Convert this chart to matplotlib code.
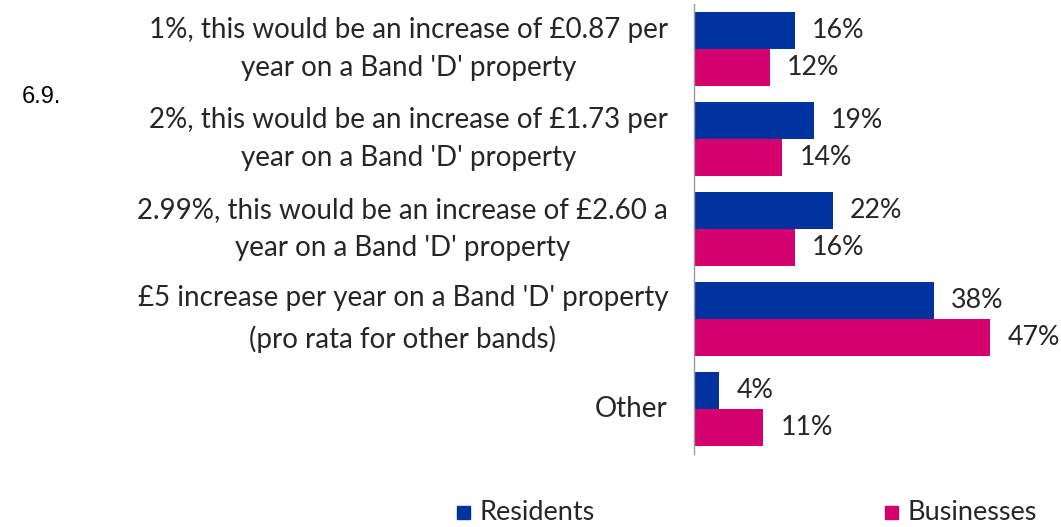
import matplotlib.pyplot as plt
import matplotlib.transforms as mtransforms
import numpy as np

# Data
categories = [
    "1%, this would be an increase of \u00a30.87 per\nyear on a Band 'D' property",
    "2%, this would be an increase of \u00a31.73 per\nyear on a Band 'D' property",
    "2.99%, this would be an increase of \u00a32.60 a\nyear on a Band 'D' property",
    "\u00a35 increase per year on a Band 'D' property\n(pro rata for other bands)",
    "Other",
]
residents = [16, 19, 22, 38, 4]
businesses = [12, 14, 16, 47, 11]

BLUE = "#0033A0"
PINK = "#D4006E"
TEXT = "#262626"
FONT = ["Lato", "DejaVu Sans"]

fig = plt.figure(figsize=(10.61, 5.27), dpi=100)
# axes: left edge at x=694px, top at y=4px, height 450px
ax = fig.add_axes([694 / 1061, 1 - 454 / 527, (1061 - 694) / 1061, 450 / 527])

n = len(categories)
y = np.arange(n)
h = 0.415
ax.barh(y - h / 2, residents, height=h, color=BLUE, label="Residents")
ax.barh(y + h / 2, businesses, height=h, color=PINK, label="Businesses")

for i in range(n):
    ax.text(residents[i] + 2.7, y[i] - h / 2, f"{residents[i]}%", va="center", ha="left",
            fontsize=19.3, color=TEXT, family=FONT)
    ax.text(businesses[i] + 2.7, y[i] + h / 2, f"{businesses[i]}%", va="center", ha="left",
            fontsize=19.3, color=TEXT, family=FONT)

ax.set_xlim(0, 58.2)
ax.set_ylim(n - 0.5, -0.5)
ax.set_yticks([])
ax.set_xticks([])

# category labels as text, right edge 26px left of the axis
base = mtransforms.blended_transform_factory(ax.transAxes, ax.transData)
tr = base + mtransforms.ScaledTranslation(-26 / 100, 0, fig.dpi_scale_trans)
for i, txt in enumerate(categories):
    ax.text(0, y[i], txt, transform=tr, ha="right", va="center", multialignment="center",
            fontsize=20, color=TEXT, family=FONT, linespacing=1.6)

for s in ["top", "right", "bottom"]:
    ax.spines[s].set_visible(False)
ax.spines["left"].set_color("#999999")
ax.spines["left"].set_linewidth(1)

fig.text(22 / 1061, 1 - 97 / 527, "6.9.", fontsize=17, va="center", ha="left",
         family=["Liberation Sans", "DejaVu Sans"], color="black")

# legend
leg_y = 1 - 512 / 527
for x0, col, lab in [(457, BLUE, "Residents"), (885, PINK, "Businesses")]:
    fig.patches.append(plt.Rectangle((x0 / 1061, leg_y - 6.5 / 527), 13 / 1061, 13 / 527,
                                     transform=fig.transFigure, color=col))
    fig.text((x0 + 22) / 1061, leg_y, lab, fontsize=19.5, va="center", ha="left",
             color=TEXT, family=FONT)

fig.savefig("out.png", dpi=100)
